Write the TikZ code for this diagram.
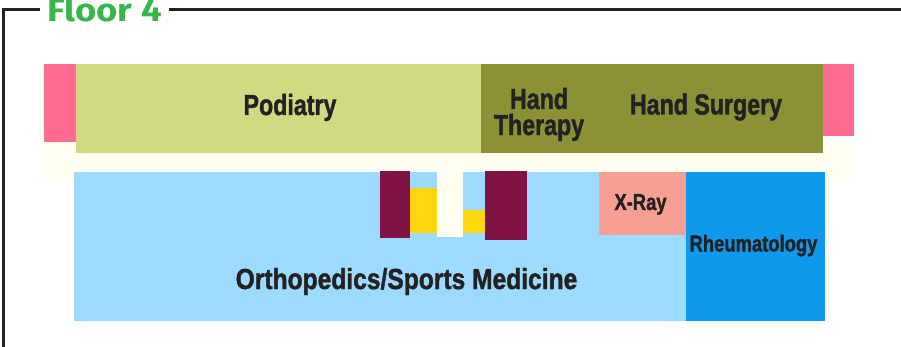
\documentclass[tikz,border=0pt]{standalone}
\usepackage{fontspec}
\setsansfont[BoldFeatures={FakeBold=1.6}]{Liberation Sans}
\newfontfamily\floorfont{Fira Sans}
\definecolor{fl01}{HTML}{FF6B91}
\definecolor{fl02}{HTML}{D1D982}
\definecolor{fl03}{HTML}{8B9236}
\definecolor{fl04}{HTML}{FFFFF2}
\definecolor{fl05}{HTML}{9DDAFF}
\definecolor{fl06}{HTML}{1099EC}
\definecolor{fl07}{HTML}{F89F94}
\definecolor{fl08}{HTML}{801246}
\definecolor{fl09}{HTML}{FFD60F}
\definecolor{fl10}{HTML}{222222}
\definecolor{fl11}{HTML}{39B54A}
\tikzset{
  roomlabel/.style={text=fl10, font=\sffamily\bfseries\fontsize{29}{26}\selectfont, xscale=0.8, inner sep=0pt, align=center, anchor=base},
  smalllabel/.style={roomlabel, font=\sffamily\bfseries\fontsize{23}{24}\selectfont, xscale=1.0},
}
\begin{document}
\begin{tikzpicture}[x=1pt,y=-1pt]
            \useasboundingbox (0,0) rectangle (901,347);
            % frame
            \draw[fl10,line width=3pt] (3.5,347) -- (3.5,9.5) -- (40,9.5);
            \draw[fl10,line width=3pt] (169,9.5) -- (901,9.5);
            \node[text=fl11,font=\floorfont\bfseries\fontsize{32}{33}\selectfont,xscale=1.14,inner sep=0pt,anchor=base] (floor) at (104.5,22) {Floor 4};
            % corridor and wings
            \fill[fl04] (44,142) rectangle (854,181);
            \fill[fl01] (44,64) rectangle (76,142);
            \fill[fl01] (822,64) rectangle (854,136);
            \fill[fl02] (76,64) rectangle (481,153.5);
            \fill[fl03] (481,64) rectangle (822.5,153.5);
            % lower rooms
            \fill[fl05] (74,172) rectangle (686,321);
            \fill[fl06] (686,172) rectangle (825,321);
            \fill[fl07] (599,172) rectangle (686,235);
            \fill[fl09] (409.5,188) rectangle (437,233);
            \fill[fl09] (463,210) rectangle (485,233);
            \fill[fl04] (437,172) rectangle (463,237);
            \fill[fl08] (380,171) rectangle (409.5,238);
            \fill[fl08] (485,171) rectangle (527,240);
            % labels
            \node[roomlabel] (podiatry) at (290,115) {Podiatry};
            \node[roomlabel] (hand) at (539,109) {Hand};
            \node[roomlabel] (therapy) at (539,135) {Therapy};
            \node[roomlabel] (handsurgery) at (706,114.5) {Hand Surgery};
            \node[smalllabel] (xray) at (640.5,210) {X-Ray};
            \node[smalllabel] (rheumatology) at (753.5,251.5) {Rheumatology};
            \node[roomlabel,xscale=1.06] (orthopedics) at (406.5,289) {Orthopedics/Sports Medicine};
        \end{tikzpicture}
\end{document}
